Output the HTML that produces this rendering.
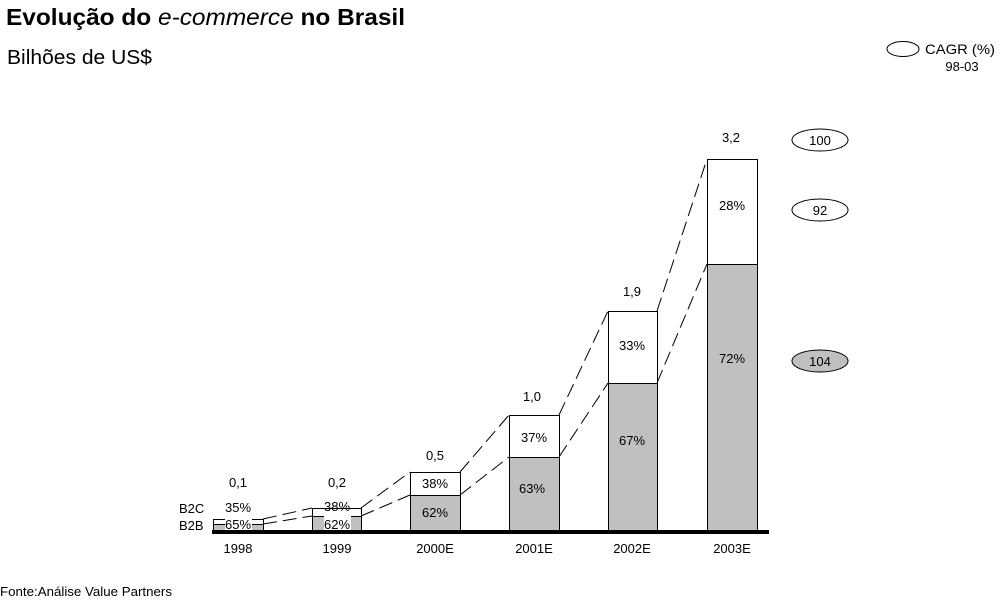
<!DOCTYPE html>
<html><head><meta charset="utf-8"><style>
html,body{margin:0;padding:0;background:#fff;}
svg{display:block;font-family:"Liberation Sans",Arial,sans-serif;}
</style></head><body>
<svg width="1002" height="600" viewBox="0 0 1002 600" xmlns="http://www.w3.org/2000/svg">
<text x="6" y="25" font-size="23" font-weight="bold" textLength="399" lengthAdjust="spacingAndGlyphs">Evolução do <tspan font-style="italic" font-weight="normal">e-commerce</tspan> no Brasil</text>
<text x="7" y="64" font-size="20" textLength="145" lengthAdjust="spacingAndGlyphs">Bilhões de US$</text>
<ellipse cx="903" cy="49" rx="16" ry="7.5" fill="#fff" stroke="#000"/>
<text x="925" y="54" font-size="14" textLength="70" lengthAdjust="spacingAndGlyphs">CAGR (%)</text>
<text x="962" y="71" font-size="13" text-anchor="middle">98-03</text>
<g stroke="#000" stroke-width="1" fill="none" stroke-dasharray="14,6">
<line x1="263" y1="519" x2="312" y2="508"/><line x1="263" y1="524" x2="312" y2="516"/>
<line x1="361" y1="508" x2="410" y2="472"/><line x1="361" y1="516" x2="410" y2="495"/>
<line x1="460" y1="472" x2="509" y2="415"/><line x1="460" y1="495" x2="509" y2="457"/>
<line x1="559" y1="415" x2="608" y2="311"/><line x1="559" y1="457" x2="608" y2="383"/>
<line x1="657" y1="311" x2="707" y2="159"/><line x1="657" y1="383" x2="707" y2="264"/>
</g>
<g stroke="#000" stroke-width="1">
<rect x="213.5" y="519.5" width="50" height="5" fill="#fff"/><rect x="213.5" y="524.5" width="50" height="7" fill="#c0c0c0"/>
<rect x="312.5" y="508.5" width="49" height="8" fill="#fff"/><rect x="312.5" y="516.5" width="49" height="15" fill="#c0c0c0"/>
<rect x="410.5" y="472.5" width="50" height="23" fill="#fff"/><rect x="410.5" y="495.5" width="50" height="36" fill="#c0c0c0"/>
<rect x="509.5" y="415.5" width="50" height="42" fill="#fff"/><rect x="509.5" y="457.5" width="50" height="74" fill="#c0c0c0"/>
<rect x="608.5" y="311.5" width="49" height="72" fill="#fff"/><rect x="608.5" y="383.5" width="49" height="148" fill="#c0c0c0"/>
<rect x="707.5" y="159.5" width="50" height="105" fill="#fff"/><rect x="707.5" y="264.5" width="50" height="267" fill="#c0c0c0"/>
</g>
<rect x="212" y="530" width="557" height="4" fill="#000"/>
<g font-size="13" text-anchor="middle">
<rect x="225" y="518" width="27" height="12" fill="#fff"/><rect x="324" y="511" width="27" height="19" fill="#fff"/>
<text x="238" y="512">35%</text><text x="238" y="529">65%</text>
<text x="337" y="511">38%</text><text x="337" y="529">62%</text>
<text x="435" y="488">38%</text><text x="435" y="517">62%</text>
<text x="534" y="442">37%</text><text x="532" y="493">63%</text>
<text x="632" y="350">33%</text><text x="632" y="445">67%</text>
<text x="732" y="210">28%</text><text x="732" y="363">72%</text>
<text x="238" y="487">0,1</text><text x="337" y="487">0,2</text>
<text x="435" y="460">0,5</text><text x="532" y="401">1,0</text>
<text x="632" y="296">1,9</text><text x="731" y="142">3,2</text>
<text x="238" y="553">1998</text><text x="337" y="553">1999</text>
<text x="435" y="553">2000E</text><text x="534" y="553">2001E</text>
<text x="632" y="553">2002E</text><text x="732" y="553">2003E</text>
</g>
<text x="179" y="513" font-size="13">B2C</text>
<text x="179" y="530" font-size="13">B2B</text>
<ellipse cx="820" cy="140" rx="28" ry="11" fill="#fff" stroke="#000"/>
<ellipse cx="820" cy="210" rx="28" ry="11" fill="#fff" stroke="#000"/>
<ellipse cx="820" cy="361" rx="28" ry="11" fill="#c0c0c0" stroke="#000"/>
<g font-size="13" text-anchor="middle">
<text x="820" y="145">100</text><text x="820" y="215">92</text><text x="820" y="366">104</text>
</g>
<text x="0" y="596" font-size="13" textLength="172" lengthAdjust="spacingAndGlyphs">Fonte:Análise Value Partners</text>
</svg>
</body></html>
